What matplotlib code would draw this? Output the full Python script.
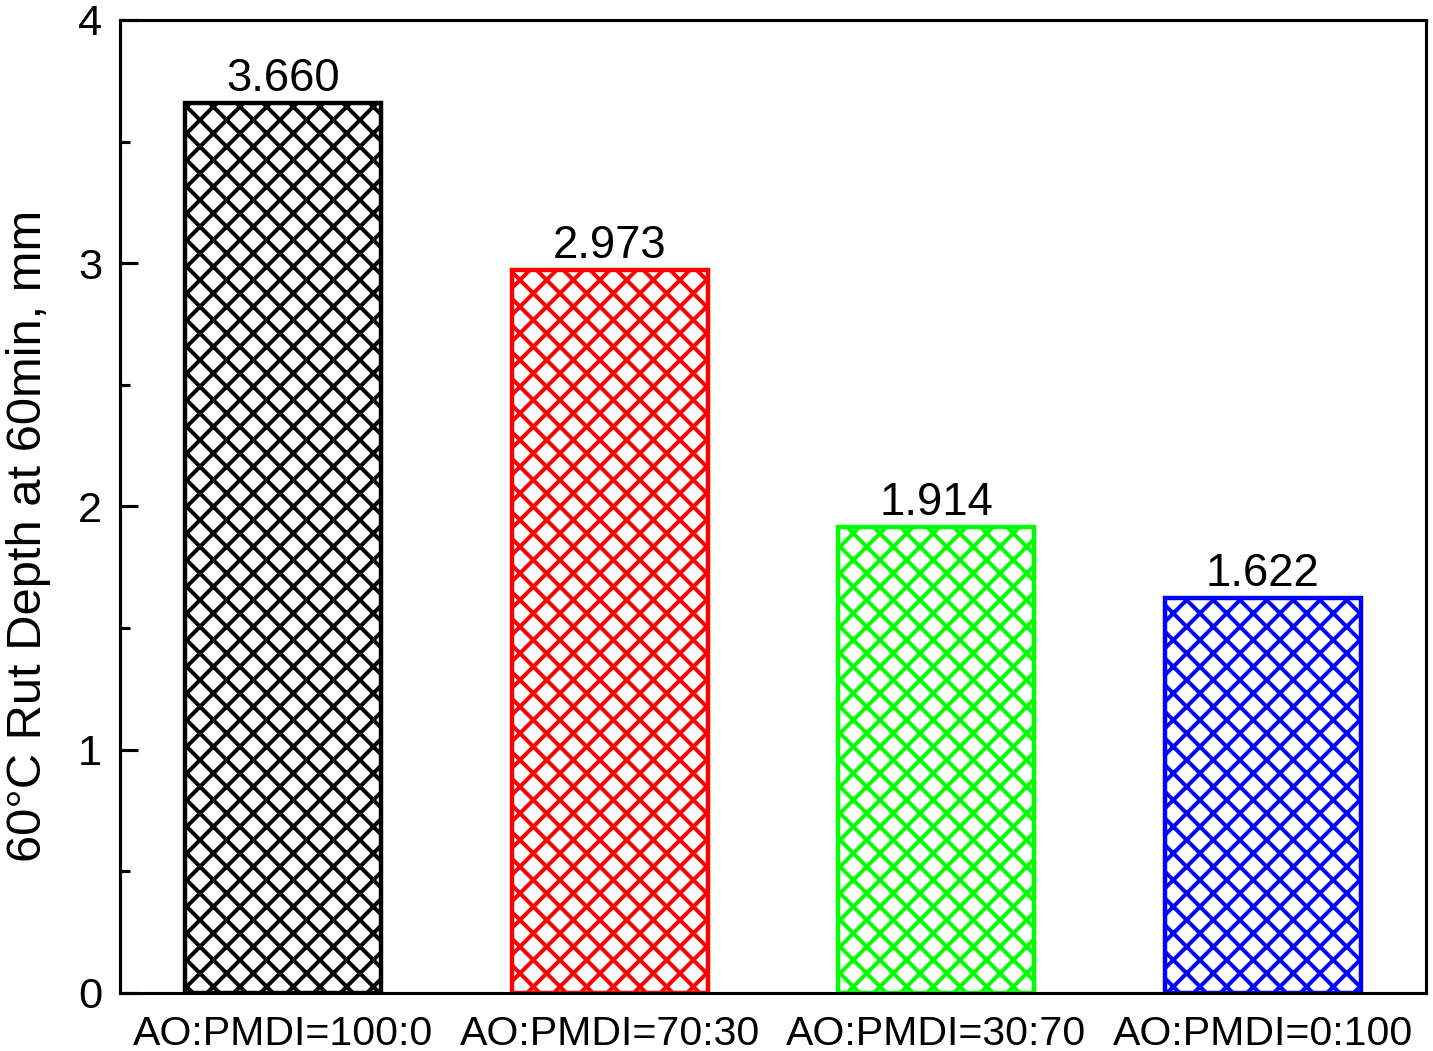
import matplotlib
matplotlib.use("Agg")
import matplotlib.pyplot as plt
from matplotlib.ticker import MultipleLocator
import numpy as np

plt.rcParams['font.family'] = ['Liberation Sans', 'DejaVu Sans']
plt.rcParams['hatch.linewidth'] = 1.8

groups = ['AO:PMDI=100:0', 'AO:PMDI=70:30', 'AO:PMDI=30:70', 'AO:PMDI=0:100']
rut_depth = [3.660, 2.973, 1.914, 1.622]
colors = ['#000000', '#FF0000', '#00FF00', '#0000FF']

fig = plt.figure(figsize=(1433 / 160, 1051 / 160), dpi=160)
ax = fig.add_axes([0.0837, 0.0552, 0.9114, 0.9258])

x = np.arange(len(groups))
for i in range(0, len(groups)):
    ax.bar(x[i], rut_depth[i], width=0.6, color='white', edgecolor=colors[i],
           hatch='xx', linewidth=2.0, zorder=2)
    ax.text(x[i], rut_depth[i] + 0.008, '%.3f' % rut_depth[i], ha='center', va='bottom',
            fontsize=20.5)

ax.set_xlim(-0.5, 3.5)
ax.set_ylim(0, 4)
ax.set_xticks(x)
ax.set_xticklabels(groups, fontsize=18.5)
ax.yaxis.set_major_locator(MultipleLocator(1))
ax.yaxis.set_minor_locator(MultipleLocator(0.5))
ax.tick_params(axis='y', which='major', direction='in', length=8, width=1.4, labelsize=19.5, pad=8)
ax.tick_params(axis='y', which='minor', direction='in', length=4.5, width=1.4)
ax.tick_params(axis='x', length=0, pad=10)
for s in ax.spines.values():
    s.set_linewidth(1.4)
ax.set_ylabel('60°C Rut Depth at 60min, mm', fontsize=22)
ax.yaxis.set_label_coords(-0.053, 0.47)

plt.savefig('out.png', dpi=160)
